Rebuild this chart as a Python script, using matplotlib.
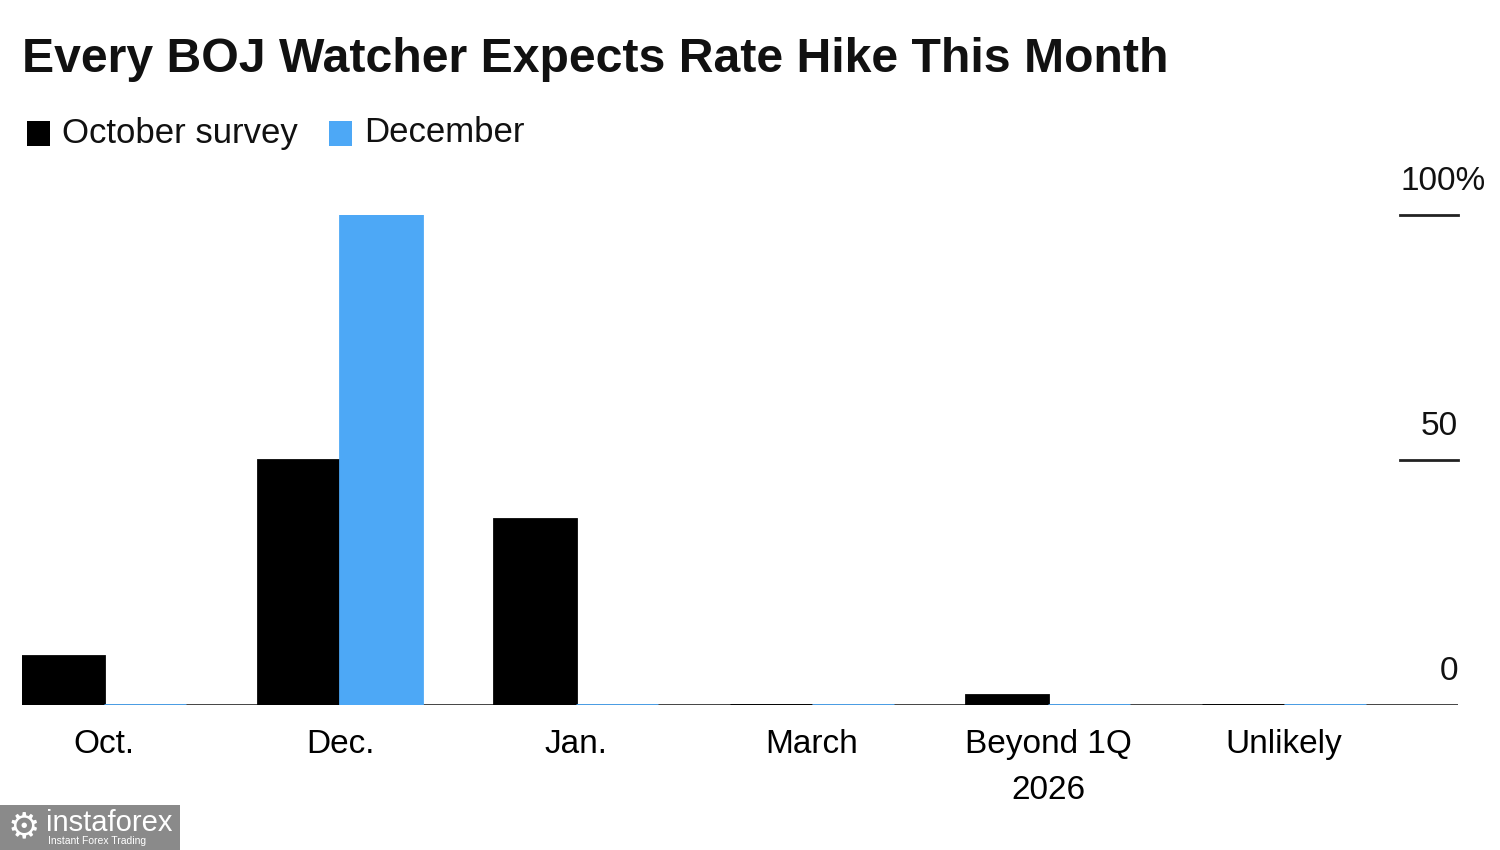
import matplotlib
matplotlib.use("Agg")
import matplotlib.pyplot as plt
from matplotlib.patches import Rectangle
import numpy as np

plt.rcParams['font.family'] = ['Liberation Sans', 'DejaVu Sans']

title = "Every BOJ Watcher Expects Rate Hike This Month"
categories = ["Oct.", "Dec.", "Jan.", "March", "Beyond 1Q\n2026", "Unlikely"]
series_names = ["October survey", "December"]
october = [10, 50, 38, 0, 2, 0]
december = [0, 100, 0, 0, 0, 0]
yticks = [0, 50, 100]
ytick_labels = ["0", "50", "100%"]

BLACK = "#000000"
BLUE = "#4DA8F6"

W, H = 1500, 850
fig = plt.figure(figsize=(15, 8.5), dpi=100)
ax = fig.add_axes([22 / W, 1 - 705 / H, (1458 - 22) / W, (705 - 215) / H])

x = np.arange(len(categories))
w = 82 / 236
ax.axhline(0, color="#333333", linewidth=2, zorder=2)
ax.bar(x - w / 2, october, width=w, color=BLACK, edgecolor=BLACK, linewidth=2, zorder=3)
ax.bar(x + w / 2, december, width=w, color=BLUE, edgecolor=BLUE, linewidth=2, zorder=3)

ax.set_xlim(-w, (1458 - 104) / 236)
ax.set_ylim(0, 100)
for s in ax.spines.values():
    s.set_visible(False)
ax.set_yticks([])
ax.set_xticks(x)
ax.set_xticklabels(categories, fontsize=24, linespacing=1.65)
ax.tick_params(axis='x', length=0, pad=17)

# right side tick segments and labels
seg_start = (1400 - 22) / (1458 - 22)
for v, lab in zip(yticks, ytick_labels):
    if v != 0:
        ax.plot([seg_start, 1.0], [v, v], transform=ax.get_yaxis_transform(),
                color="#222222", linewidth=2, clip_on=False, zorder=2)
    xr = 1486 if lab.endswith("%") else 1458
    ax.annotate(lab, xy=((xr - 22) / (1458 - 22), v), xycoords=ax.get_yaxis_transform(),
                xytext=(0, 24), textcoords="offset points", ha="right", va="center",
                fontsize=24, color="#111111", annotation_clip=False)

# title
fig.text(22 / W, 1 - 60 / H, title, fontsize=34.7, fontweight="bold", ha="left", va="center",
         color="#111111")

# legend
fig.patches.append(Rectangle((27 / W, 1 - 146 / H), 23 / W, 25 / H, transform=fig.transFigure,
                             facecolor=BLACK, edgecolor="none"))
fig.text(62 / W, 1 - 133 / H, series_names[0], fontsize=25, ha="left", va="center", color="#111111")
fig.patches.append(Rectangle((329 / W, 1 - 146 / H), 23 / W, 25 / H, transform=fig.transFigure,
                             facecolor=BLUE, edgecolor="none"))
fig.text(364 / W, 1 - 133 / H, series_names[1], fontsize=25, ha="left", va="center", color="#111111")

# watermark
fig.patches.append(Rectangle((0, 0), 180 / W, 45 / H, transform=fig.transFigure,
                             facecolor="#8a8a8a", edgecolor="none", zorder=5))
fig.text(46 / W, 1 - 823 / H, "instaforex", fontsize=21, color="white", ha="left", va="center", zorder=6)
fig.text(48 / W, 1 - 841 / H, "Instant Forex Trading", fontsize=7.5, color="white", ha="left", va="center", zorder=6)
fig.text(24 / W, 1 - 827 / H, "\u2699", fontsize=26, color="white", ha="center", va="center", zorder=6,
         family=['DejaVu Sans'])

fig.savefig("out.png", dpi=100)
